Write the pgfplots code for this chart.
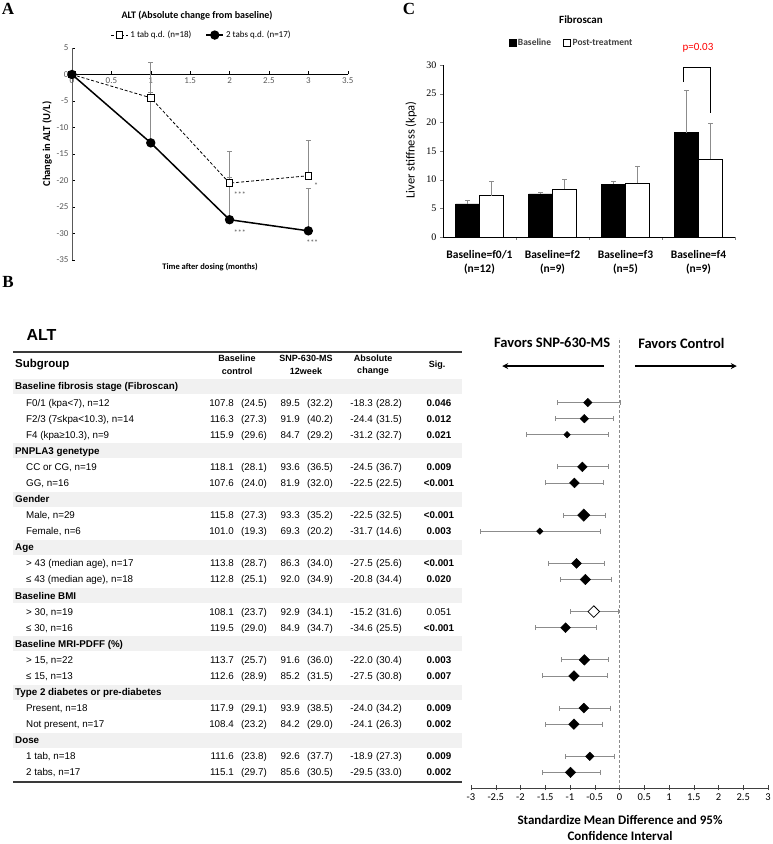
\documentclass[border=0pt]{standalone}
\usepackage{pgfplots}
\pgfplotsset{compat=1.18}
\usepackage{pgfplotstable}
\usepackage{fontspec}
\setmainfont{Liberation Sans}
\newfontfamily\carl{Carlito}
\newfontfamily\tms{Liberation Serif}
\usetikzlibrary{arrows.meta}

\definecolor{errgray}{HTML}{8C8C8C}
\definecolor{band}{HTML}{F1F1F1}
\definecolor{tickgray}{HTML}{595959}
\definecolor{rulegray}{HTML}{3A3A3A}
\definecolor{legdark}{HTML}{404040}

% panel A: change in ALT, mean and upper error
\pgfplotstableread{
x y ep
0 0 0
1 -4.4 6.6
2 -20.5 5.9
3 -19.1 6.6
}\onetab
\pgfplotstableread{
x y ep
0 0 0
1 -12.9 9.5
2 -27.4 8.0
3 -29.5 8.1
}\twotab

% panel C: fibroscan, mean and upper error
\pgfplotstableread{
cat base bep post pep
1 5.76 0.55 7.2 2.55
2 7.5 0.3 8.4 1.65
3 9.2 0.45 9.4 3.0
4 18.2 7.3 13.6 6.2
}\fibro

% panel B forest: r = table row, x = SMD, lo/hi = 95% CI, ms = marker size
\pgfplotstableread{
r x lo hi ms
1 -0.64 -1.26 0.01 3.0
2 -0.71 -1.30 -0.12 3.0
3 -1.06 -1.89 -0.23 2.3
5 -0.75 -1.26 -0.23 3.5
6 -0.91 -1.49 -0.33 3.5
8 -0.72 -1.14 -0.29 4.4
9 -1.61 -2.82 -0.39 2.3
11 -0.87 -1.43 -0.31 3.5
12 -0.69 -1.20 -0.17 3.7
15 -1.09 -1.69 -0.47 3.5
17 -0.71 -1.17 -0.23 3.75
18 -0.92 -1.56 -0.25 3.75
20 -0.72 -1.22 -0.18 3.5
21 -0.92 -1.49 -0.35 3.75
23 -0.60 -1.10 -0.10 3.0
24 -0.99 -1.56 -0.39 3.75
}\forest
\pgfplotstableread{
r x lo hi ms
14 -0.52 -0.99 -0.02 4.1
}\forestopen

\newcommand\tb{\fontsize{9.8}{11}\selectfont}
\newcommand\grp[2]{%
  \pgfmathsetmacro\yc{457.5-16.08*#1}%
  \fill[band] (13,\yc-7.5) rectangle (462,\yc+7.5);
  \node[anchor=base west, inner sep=0pt, font=\tb\bfseries] at (15,\yc-3.5) {#2};}
\newcommand\trow[9]{%
  \pgfmathsetmacro\yb{457.5-16.08*#1-3.5}%
  \node[anchor=base west, inner sep=0pt, font=\tb] at (26,\yb) {#2};
  \node[anchor=base east, inner sep=0pt, font=\tb] at (234,\yb) {#3};
  \node[anchor=base east, inner sep=0pt, font=\tb] at (267,\yb) {(#4)};
  \node[anchor=base east, inner sep=0pt, font=\tb] at (300,\yb) {#5};
  \node[anchor=base east, inner sep=0pt, font=\tb] at (333,\yb) {(#6)};
  \node[anchor=base east, inner sep=0pt, font=\tb] at (373,\yb) {#7};
  \node[anchor=base east, inner sep=0pt, font=\tb] at (402,\yb) {(#8)};
  \node[anchor=base, inner sep=0pt, font=\tb] at (439,\yb) {#9};}

\begin{document}
\begin{tikzpicture}[x=1pt, y=1pt]
\useasboundingbox (0,0) rectangle (772,844);

% ---------------- panel letters and titles
\node[font=\tms\bfseries\fontsize{17}{17}\selectfont] at (8,835) {A};
\node[font=\tms\bfseries\fontsize{17}{17}\selectfont] at (409,835) {C};
\node[font=\tms\bfseries\fontsize{17}{17}\selectfont] at (8,562) {B};

\node[font=\carl\bfseries\fontsize{10}{12}\selectfont] at (197,828) {ALT (Absolute change from baseline)};
\node[font=\carl\bfseries\fontsize{10.5}{12}\selectfont, rotate=90] at (47,700) {Change in ALT (U/L)};
\node[font=\carl\bfseries\fontsize{8.5}{10}\selectfont] at (210,577) {Time after dosing (months)};

% ---------------- panel A
\begin{axis}[at={(72pt,584pt)}, anchor=south west, scale only axis,
  width=275.7pt, height=212pt,
  xmin=0, xmax=3.5, ymin=-35, ymax=5,
  axis x line*=middle, axis y line*=left,
  xtick={0,0.5,1,1.5,2,2.5,3,3.5}, ytick={-35,-30,-25,-20,-15,-10,-5,0,5},
  hide obscured x ticks=false, hide obscured y ticks=false,
  tick label style={font=\carl\fontsize{9}{10}\selectfont, text=tickgray},
  /pgf/number format/assume math mode=true,
  major tick length=3pt, tick style={black},
  x axis line style={line width=0.8pt}, y axis line style={tickgray},
  clip=false,
  legend style={draw=none, fill=none, legend columns=2, at={(0.47,1.061)}, anchor=center,
    font=\carl\fontsize{9}{10}\selectfont,
    /tikz/every even column/.append style={column sep=12pt}},
]
\addplot[black, line width=0.8pt, dash pattern=on 3pt off 2pt,
  mark=square*, mark size=3.3pt, mark options={solid, fill=white, draw=black, line width=0.8pt},
  error bars/.cd, y dir=plus, y explicit,
  error bar style={solid, errgray, line width=0.8pt},
  error mark options={rotate=90, solid, errgray, mark size=2.5pt, line width=0.8pt}]
  table[x=x, y=y, y error=ep] {\onetab};
\addlegendentry{1 tab q.d. (n=18)}
\addplot[black, line width=1.5pt, mark=*, mark size=3.9pt, mark options={fill=black},
  error bars/.cd, y dir=plus, y explicit,
  error bar style={errgray, line width=0.8pt},
  error mark options={rotate=90, errgray, mark size=2.5pt, line width=0.8pt}]
  table[x=x, y=y, y error=ep] {\twotab};
\addlegendentry{2 tabs q.d. (n=17)}
\node[font=\carl\fontsize{8}{9}\selectfont, text=tickgray] at (axis cs:2.13,-22.7) {***};
\node[font=\carl\fontsize{8}{9}\selectfont, text=tickgray] at (axis cs:2.13,-29.8) {***};
\node[font=\carl\fontsize{8}{9}\selectfont, text=tickgray] at (axis cs:3.1,-21.0) {*};
\node[font=\carl\fontsize{8}{9}\selectfont, text=tickgray] at (axis cs:3.05,-31.8) {***};
\end{axis}

% ---------------- panel C
\node[font=\carl\bfseries\fontsize{11}{13}\selectfont] at (581,824) {Fibroscan};
\node[font=\carl\fontsize{12.5}{14}\selectfont, rotate=90] at (411,694) {Liver stiffness (kpa)};
\node[font=\carl\fontsize{11}{13}\selectfont, text=red] at (698,796) {p=0.03};

\begin{axis}[at={(443pt,607pt)}, anchor=south west, scale only axis,
  width=292pt, height=172pt,
  xmin=0.5, xmax=4.5, ymin=0, ymax=30,
  axis x line*=bottom, axis y line*=left,
  ybar=0pt, bar width=24pt,
  xtick={1.5,2.5,3.5,4.5}, xticklabels={},
  ytick={0,5,10,15,20,25,30},
  tick align=outside, major tick length=3pt,
  yticklabel style={font=\tms\fontsize{10}{12}\selectfont},
  /pgf/number format/assume math mode=true,
  clip=false,
  legend style={draw=none, fill=none, legend columns=2, at={(0.44,1.128)}, anchor=center,
    font=\carl\bfseries\fontsize{9.5}{11}\selectfont, text=legdark,
    /tikz/every even column/.append style={column sep=10pt}},
  legend image code/.code={\draw[#1] (0pt,-3.5pt) rectangle (7pt,3.5pt);},
]
\addplot[fill=black, draw=black,
  error bars/.cd, y dir=plus, y explicit,
  error bar style={errgray, line width=0.8pt},
  error mark options={rotate=90, errgray, mark size=2.5pt, line width=0.8pt}]
  table[x=cat, y=base, y error=bep] {\fibro};
\addlegendentry{Baseline}
\addplot[fill=white, draw=black, line width=0.6pt,
  error bars/.cd, y dir=plus, y explicit,
  error bar style={errgray, line width=0.8pt},
  error mark options={rotate=90, errgray, mark size=2.5pt, line width=0.8pt}]
  table[x=cat, y=post, y error=pep] {\fibro};
\addlegendentry{Post-treatment}
\draw[black, line width=1pt] (axis cs:3.79,27.0) -- (axis cs:3.79,29.5) -- (axis cs:4.16,29.5) -- (axis cs:4.16,21.6);
\node[align=center, font=\carl\bfseries\fontsize{11.5}{14}\selectfont, yshift=-25pt] at (axis cs:1,0) {Baseline=f0/1\\(n=12)};
\node[align=center, font=\carl\bfseries\fontsize{11.5}{14}\selectfont, yshift=-25pt] at (axis cs:2,0) {Baseline=f2\\(n=9)};
\node[align=center, font=\carl\bfseries\fontsize{11.5}{14}\selectfont, yshift=-25pt] at (axis cs:3,0) {Baseline=f3\\(n=5)};
\node[align=center, font=\carl\bfseries\fontsize{11.5}{14}\selectfont, yshift=-25pt] at (axis cs:4,0) {Baseline=f4\\(n=9)};
\end{axis}

% ---------------- panel B table
\node[font=\bfseries\fontsize{16}{18}\selectfont] at (41.5,509) {ALT};
\draw[rulegray, line width=1.2pt] (13,492) -- (462,492);
\draw[rulegray, line width=0.8pt] (13,465) -- (462,465);
\draw[rulegray, line width=1.2pt] (13,62) -- (462,62);
\node[anchor=west, inner sep=0pt, font=\bfseries\fontsize{11.5}{13}\selectfont] at (15,479) {Subgroup};
\node[align=center, font=\bfseries\fontsize{9}{12.5}\selectfont] at (237,479) {Baseline\\control};
\node[align=center, font=\bfseries\fontsize{9}{12.5}\selectfont] at (306,479) {SNP-630-MS\\12week};
\node[align=center, font=\bfseries\fontsize{9}{12.5}\selectfont] at (373,479) {Absolute\\change};
\node[font=\bfseries\fontsize{9}{12.5}\selectfont] at (437,479) {Sig.};

\grp{0}{Baseline fibrosis stage (Fibroscan)}
\trow{1}{F0/1 (kpa<7), n=12}{107.8}{24.5}{89.5}{32.2}{-18.3}{28.2}{\textbf{0.046}}
\trow{2}{F2/3 (7≤kpa<10.3), n=14}{116.3}{27.3}{91.9}{40.2}{-24.4}{31.5}{\textbf{0.012}}
\trow{3}{F4 (kpa≥10.3), n=9}{115.9}{29.6}{84.7}{29.2}{-31.2}{32.7}{\textbf{0.021}}
\grp{4}{PNPLA3 genetype}
\trow{5}{CC or CG, n=19}{118.1}{28.1}{93.6}{36.5}{-24.5}{36.7}{\textbf{0.009}}
\trow{6}{GG, n=16}{107.6}{24.0}{81.9}{32.0}{-22.5}{22.5}{\textbf{<0.001}}
\grp{7}{Gender}
\trow{8}{Male, n=29}{115.8}{27.3}{93.3}{35.2}{-22.5}{32.5}{\textbf{<0.001}}
\trow{9}{Female, n=6}{101.0}{19.3}{69.3}{20.2}{-31.7}{14.6}{\textbf{0.003}}
\grp{10}{Age}
\trow{11}{> 43 (median age), n=17}{113.8}{28.7}{86.3}{34.0}{-27.5}{25.6}{\textbf{<0.001}}
\trow{12}{≤ 43 (median age), n=18}{112.8}{25.1}{92.0}{34.9}{-20.8}{34.4}{\textbf{0.020}}
\grp{13}{Baseline BMI}
\trow{14}{> 30, n=19}{108.1}{23.7}{92.9}{34.1}{-15.2}{31.6}{0.051}
\trow{15}{≤ 30, n=16}{119.5}{29.0}{84.9}{34.7}{-34.6}{25.5}{\textbf{<0.001}}
\grp{16}{Baseline MRI-PDFF (\%)}
\trow{17}{> 15, n=22}{113.7}{25.7}{91.6}{36.0}{-22.0}{30.4}{\textbf{0.003}}
\trow{18}{≤ 15, n=13}{112.6}{28.9}{85.2}{31.5}{-27.5}{30.8}{\textbf{0.007}}
\grp{19}{Type 2 diabetes or pre-diabetes}
\trow{20}{Present, n=18}{117.9}{29.1}{93.9}{38.5}{-24.0}{34.2}{\textbf{0.009}}
\trow{21}{Not present, n=17}{108.4}{23.2}{84.2}{29.0}{-24.1}{26.3}{\textbf{0.002}}
\grp{22}{Dose}
\trow{23}{1 tab, n=18}{111.6}{23.8}{92.6}{37.7}{-18.9}{27.3}{\textbf{0.009}}
\trow{24}{2 tabs, n=17}{115.1}{29.7}{85.6}{30.5}{-29.5}{33.0}{\textbf{0.002}}

% ---------------- panel B forest plot
\node[align=center, font=\carl\bfseries\fontsize{13}{16}\selectfont] at (620,16) {Standardize Mean Difference and 95\%\\Confidence Interval};

\begin{axis}[at={(471pt,56pt)}, anchor=south west, scale only axis,
  width=297pt, height=450pt,
  xmin=-3, xmax=3, ymin=-24.97, ymax=3.016,
  axis x line*=bottom, axis y line=none,
  xtick={-3,-2.5,-2,-1.5,-1,-0.5,0,0.5,1,1.5,2,2.5,3}, ytick=\empty,
  tick align=center, major tick length=5pt,
  tick label style={font=\carl\fontsize{10.5}{12}\selectfont},
  /pgf/number format/assume math mode=true,
  x axis line style={line width=0.8pt, black!75}, tick style={black!75},
  clip=false,
]
\addplot[errgray, line width=1pt, dash pattern=on 3pt off 2pt] coordinates {(0,-24.97) (0,3.016)};
\addplot[draw=none, mark=none,
  error bars/.cd, x dir=both, x explicit,
  error bar style={draw=errgray, line width=0.8pt},
  error mark options={rotate=90, draw=errgray, mark size=2.5pt, line width=0.8pt}]
  table[x=x, y expr=-\thisrow{r}, x error plus expr=\thisrow{hi}-\thisrow{x}, x error minus expr=\thisrow{x}-\thisrow{lo}] {\forest};
\addplot[draw=none, mark=none,
  error bars/.cd, x dir=both, x explicit,
  error bar style={draw=errgray, line width=0.8pt},
  error mark options={rotate=90, draw=errgray, mark size=2.5pt, line width=0.8pt}]
  table[x=x, y expr=-\thisrow{r}, x error plus expr=\thisrow{hi}-\thisrow{x}, x error minus expr=\thisrow{x}-\thisrow{lo}] {\forestopen};
\addplot[only marks, mark=square*, mark options={rotate=45},
  scatter, scatter/use mapped color={draw=black, fill=black},
  visualization depends on={\thisrow{ms} \as \msz},
  scatter/@pre marker code/.append style={/tikz/mark size=\msz}]
  table[x=x, y expr=-\thisrow{r}] {\forest};
\addplot[only marks, mark=square*, mark size=4.1pt,
  mark options={rotate=45, draw=black, fill=white, line width=0.8pt}]
  table[x=x, y expr=-\thisrow{r}] {\forestopen};
\draw[black, line width=1.5pt, -{Stealth[length=6pt, width=6pt]}] (axis cs:-0.31,1.27) -- (axis cs:-2.37,1.27);
\draw[black, line width=1.5pt, -{Stealth[length=6pt, width=6pt]}] (axis cs:0.31,1.27) -- (axis cs:2.37,1.27);
\node[font=\carl\bfseries\fontsize{14.5}{16}\selectfont] at (axis cs:-1.36,2.7) {Favors SNP-630-MS};
\node[font=\carl\bfseries\fontsize{14.5}{16}\selectfont] at (axis cs:1.25,2.7) {Favors Control};
\end{axis}
\end{tikzpicture}
\end{document}
